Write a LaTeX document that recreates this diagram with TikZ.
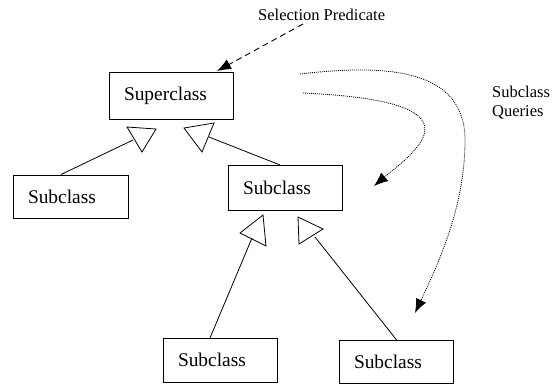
\documentclass[tikz,border=0pt]{standalone}
\usepackage{fontspec}
\setmainfont{Liberation Serif}
\usetikzlibrary{arrows.meta}
\begin{document}
\begin{tikzpicture}[x=1pt,y=-1pt,
  classbox/.style={draw,line width=0.8pt,rectangle,inner xsep=15pt,inner ysep=0pt,
    align=left,font=\fontsize{19.4}{23}\selectfont},
  inh/.style={line width=0.8pt},
  tri/.style={line width=0.8pt,fill=white,line join=miter},
  lbl/.style={font=\fontsize{16.5}{19}\selectfont,inner sep=0pt},
  sel/.style={line width=0.9pt,dash pattern=on 6pt off 4pt,-{Latex[length=14pt,width=11pt]}},
  qry/.style={line width=0.8pt,dash pattern=on 1pt off 1pt,-{Latex[length=14pt,width=11pt]}}]
\useasboundingbox (0,0) rectangle (559,384);

\node[classbox,text width=94pt,minimum height=47pt] (sup) at (171,95.5) {Superclass};
\node[classbox,text width=85pt,minimum height=43pt] (s1) at (70.5,196.5) {Subclass};
\node[classbox,text width=84pt,minimum height=45pt] (s2) at (285,187.5) {Subclass};
\node[classbox,text width=84pt,minimum height=44pt] (s3) at (220,360) {Subclass};
\node[classbox,text width=84pt,minimum height=43pt] (s4) at (396,361.5) {Subclass};

% inheritance triangles
\draw[tri] (127,127) -- (156,129) -- (142,152) -- cycle;
\draw[tri] (184,128) -- (214,123) -- (202,152) -- cycle;
\draw[tri] (263,215) -- (240,233) -- (266,246) -- cycle;
\draw[tri] (298,217) -- (323,229) -- (299,244) -- cycle;

\coordinate (t1) at (133,140);
\coordinate (t2) at (209,137);
\coordinate (t3) at (252,238);
\coordinate (t4) at (315,237);
\coordinate (a1) at (61,174.5);
\coordinate (a2) at (280,165);
\coordinate (a3) at (210,338);
\coordinate (a4) at (397,340.5);

\draw[inh] (a1) -- (t1);
\draw[inh] (a2) -- (t2);
\draw[inh] (a3) -- (t3);
\draw[inh] (a4) -- (t4);

% selection predicate
\node[lbl,anchor=base west] (selp) at (258,20) {Selection Predicate};
\coordinate (selstart) at (303,24);
\coordinate (seltip) at (217,71);
\draw[sel] (selstart) -- (seltip);

% subclass queries
\node[lbl,anchor=base west,align=left] (sq) at (492,116) {Subclass\\Queries};
\coordinate (q1s) at (300,74);
\coordinate (q1e) at (415,313);
\coordinate (q2s) at (303,93);
\coordinate (q2e) at (374,186);
\draw[qry] (q1s) .. controls (385,64) and (465,68) .. (465,140) .. controls (465,205) and (440,260) .. (q1e);
\draw[qry] (q2s) .. controls (390,97) and (432,110) .. (424,135) .. controls (418,152) and (395,168) .. (q2e);
\end{tikzpicture}
\end{document}
